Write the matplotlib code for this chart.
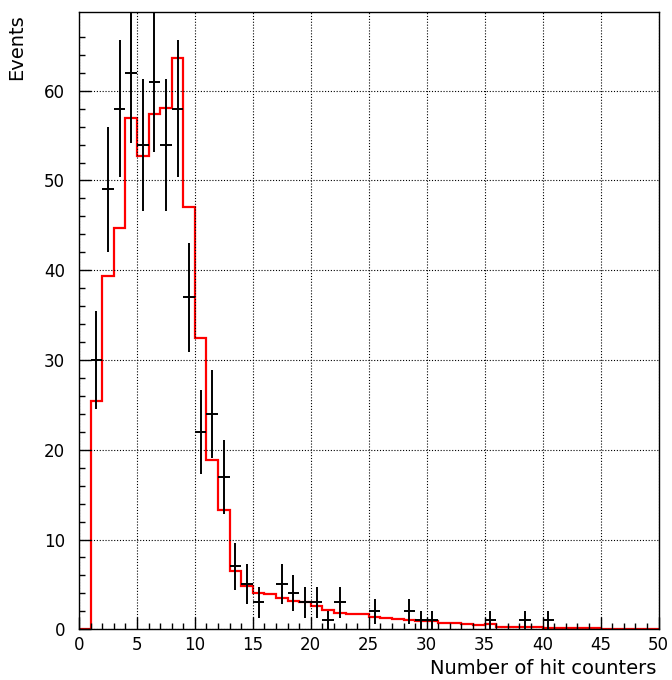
import numpy as np
import matplotlib
matplotlib.use("Agg")
import matplotlib.pyplot as plt

plt.rcParams["font.family"] = ["DejaVu Sans"]

# bin edges 0..50, one bin per counter multiplicity
edges = np.arange(0, 51)

# data: event counts per bin (bins 0..49)
counts = [0, 30, 49, 58, 62, 54, 61, 54, 58, 37,
          22, 24, 17, 7, 5, 3, 0, 5, 4, 3,
          3, 1, 3, 0, 0, 2, 0, 0, 2, 1,
          1, 0, 0, 0, 0, 1, 0, 0, 1, 0,
          1, 0, 0, 0, 0, 0, 0, 0, 0, 0]

# simulation (red histogram), normalised to data
mc = [0.0, 25.4, 39.4, 44.7, 57.0, 52.7, 57.4, 58.1, 63.6, 47.0,
      32.4, 18.9, 13.3, 6.5, 4.8, 4.0, 3.9, 3.5, 3.2, 3.0,
      2.6, 2.2, 1.8, 1.7, 1.7, 1.35, 1.25, 1.15, 1.05, 0.95,
      0.9, 0.65, 0.75, 0.6, 0.45, 0.55, 0.26, 0.24, 0.22, 0.22,
      0.2, 0.11, 0.11, 0.11, 0.18, 0.08, 0.08, 0.07, 0.07, 0.06]

counts = np.array(counts, dtype=float)
centers = 0.5 * (edges[:-1] + edges[1:])
nz = counts > 0

fig = plt.figure(figsize=(6.72, 6.80), dpi=100)
ax = fig.add_axes([79 / 672, 1 - 629.3 / 680, (658.5 - 79) / 672, (629.3 - 11.7) / 680])

ax.stairs(mc, edges, color="red", lw=1.6, baseline=0)
ax.errorbar(centers[nz], counts[nz], xerr=0.5, yerr=np.sqrt(counts[nz]),
            fmt="none", ecolor="black", elinewidth=1.4, capsize=0)

ax.set_xlim(0, 50)
ax.set_ylim(0, 68.8)
ax.set_xticks(np.arange(0, 51, 5))
ax.set_xticks(np.arange(0, 51, 1), minor=True)
ax.set_yticks(np.arange(0, 61, 10))
ax.set_yticks(np.arange(0, 68, 2), minor=True)
ax.grid(True, which="major", color="black", linestyle=(0, (1, 1.6)), lw=0.8)
ax.tick_params(which="both", direction="in", top=False, right=False, labelsize=12)
ax.tick_params(which="major", length=8.5, width=1)
ax.tick_params(which="minor", length=4.3, width=1)
ax.tick_params(axis="x", pad=5)
ax.tick_params(axis="y", pad=10)
for s in ax.spines.values():
    s.set_linewidth(1)

fig.text(17 / 672, 1 - 14 / 680, "Events", rotation=90, ha="center", va="top", fontsize=14)
fig.text(656 / 672, 1 - 668 / 680, "Number of hit counters", ha="right", va="center", fontsize=14)

plt.savefig("out.png", dpi=100)
